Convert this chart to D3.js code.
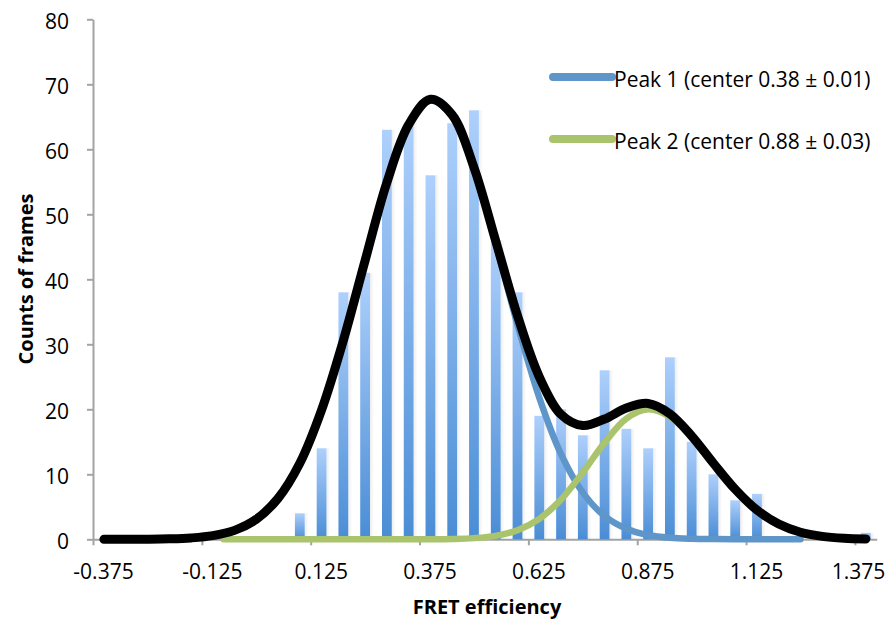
<!DOCTYPE html>
<html>
<head>
<meta charset="utf-8">
<script src="https://cdnjs.cloudflare.com/ajax/libs/d3/7.8.5/d3.min.js"></script>
<style>
  body { margin: 0; background: #fff; }
  svg text { font-family: "Open Sans", sans-serif; fill: #000; }
</style>
</head>
<body>
<div id="vis"></div>
<script>
// histogram of FRET efficiency (bin centres) and counts
const binCenters = [0.10, 0.15, 0.20, 0.25, 0.30, 0.35, 0.40, 0.45, 0.50, 0.55, 0.60, 0.65, 0.70, 0.75,
  0.80, 0.85, 0.90, 0.95, 1.00, 1.05, 1.10, 1.15, 1.20, 1.25, 1.30, 1.35, 1.40];
const counts = [4, 14, 38, 41, 63, 64, 56, 64, 66, 46, 38, 19, 20, 16,
  26, 17, 14, 28, 15, 10, 6, 7, 0, 0, 0, 0, 1];

// total fit (black)
const sumX = [-0.35, -0.30, -0.25, -0.20, -0.15, -0.10, -0.05, 0.00, 0.05, 0.10, 0.15, 0.20, 0.25, 0.30,
  0.35, 0.40, 0.45, 0.50, 0.55, 0.60, 0.65, 0.70, 0.75, 0.80, 0.85, 0.90, 0.95, 1.00, 1.05, 1.10,
  1.15, 1.20, 1.25, 1.30, 1.35, 1.40];
const sumFit = [0, 0.01, 0.02, 0.07, 0.21, 0.56, 1.37, 3.08, 6.30, 11.7, 19.9, 30.6, 42.9, 54.9,
  63.8, 67.7, 65.3, 57.2, 45.9, 34.4, 25.0, 19.2, 17.5, 18.5, 20.2, 20.9, 19.3, 15.9, 11.7, 7.7,
  4.5, 2.35, 1.09, 0.45, 0.16, 0.05];

// the two peaks
const peakX = [-0.075, -0.05, 0.00, 0.05, 0.10, 0.15, 0.20, 0.25, 0.30, 0.35, 0.40, 0.45, 0.50, 0.55,
  0.60, 0.65, 0.70, 0.75, 0.80, 0.85, 0.90, 0.95, 1.00, 1.05, 1.10, 1.15, 1.20, 1.25];
const peak1 = [0.88, 1.37, 3.08, 6.30, 11.7, 19.9, 30.6, 42.9, 54.9, 63.8, 67.5, 65.0, 57.0, 45.4,
  33.0, 21.8, 13.1, 7.19, 3.58, 1.63, 0.67, 0.25, 0.09, 0.03, 0.01, 0, 0, 0];
const peak2 = [0, 0, 0, 0, 0, 0, 0, 0, 0, 0, 0.01, 0.05, 0.18, 0.53,
  1.39, 3.15, 6.13, 10.28, 14.88, 18.57, 20.0, 18.85, 15.77, 11.71, 7.73, 4.52, 2.35, 1.09];

const xTicks = [-0.375, -0.125, 0.125, 0.375, 0.625, 0.875, 1.125, 1.375];
const xTickLabels = ["-0.375", "-0.125", "0.125", "0.375", "0.625", "0.875", "1.125", "1.375"];
const yTicks = [0, 10, 20, 30, 40, 50, 60, 70, 80];
const legendLabels = ["Peak 1 (center 0.38 \u00b1 0.01)", "Peak 2 (center 0.88 \u00b1 0.03)"];
const seriesColors = ["#5f96ca", "#a9c46c"];

let w = 896, h = 619;

let svg = d3.select("#vis").append("svg")
  .attr("width", w)
  .attr("height", h);

let x = d3.scaleLinear().domain([-0.375, 1.425]).range([93, 876.7]);
let y = d3.scaleLinear().domain([0, 80]).range([539.3, 19.3]);

let defs = svg.append("defs");
let barGrad = defs.append("linearGradient")
  .attr("id", "barGrad")
  .attr("x1", 0).attr("y1", 0).attr("x2", 0).attr("y2", 1);
barGrad.append("stop").attr("offset", "0%").attr("stop-color", "#aed0fc");
barGrad.append("stop").attr("offset", "100%").attr("stop-color", "#4a8dd5");

let shadowGrad = defs.append("linearGradient")
  .attr("id", "shadowGrad")
  .attr("x1", 0).attr("y1", 0).attr("x2", 1).attr("y2", 0);
shadowGrad.append("stop").attr("offset", "0%").attr("stop-color", "#000").attr("stop-opacity", 0.07);
shadowGrad.append("stop").attr("offset", "100%").attr("stop-color", "#000").attr("stop-opacity", 0);

// axes
let yAxis = svg.append("g")
  .attr("transform", "translate(" + x(-0.375) + ",0)")
  .call(d3.axisLeft(y).tickValues(yTicks).tickSize(6).tickSizeOuter(0).tickPadding(18));

let xAxis = svg.append("g")
  .attr("transform", "translate(0," + y(0) + ")")
  .call(d3.axisBottom(x).tickValues(xTicks).tickSize(6).tickSizeOuter(0).tickPadding(19)
    .tickFormat(function(d, i){ return xTickLabels[i]; }));

[xAxis, yAxis].forEach(function(g){
  g.select(".domain").attr("stroke", "#a3a3a3").attr("stroke-width", 2);
  g.selectAll(".tick line").attr("stroke", "#a3a3a3").attr("stroke-width", 2);
  g.selectAll("text")
    .attr("font-family", "Open Sans")
    .attr("font-size", 21)
    .attr("fill", "#000");
});
yAxis.selectAll("text").attr("dy", "0.45em");
xAxis.selectAll("text").attr("dx", function(d){ return d > 1.3 ? 3 : 10; });

// bars
let step = x(0.05) - x(0);
let barW = step * 0.45;

svg.selectAll("rect.shadow")
  .data(binCenters)
  .enter()
  .append("rect")
  .attr("class", "shadow")
  .attr("x", function(d){ return x(d) + barW / 2; })
  .attr("y", function(d, i){ return y(counts[i]); })
  .attr("width", 4)
  .attr("height", function(d, i){ return y(0) - y(counts[i]); })
  .attr("fill", "url(#shadowGrad)");

svg.selectAll("rect.bar")
  .data(binCenters)
  .enter()
  .append("rect")
  .attr("class", "bar")
  .attr("x", function(d){ return x(d) - barW / 2; })
  .attr("y", function(d, i){ return y(counts[i]); })
  .attr("width", barW)
  .attr("height", function(d, i){ return y(0) - y(counts[i]); })
  .attr("fill", "url(#barGrad)");

// fitted curves
let line = d3.line()
  .x(function(d){ return x(d[0]); })
  .y(function(d){ return y(d[1]); })
  .curve(d3.curveCatmullRom.alpha(0.5));

[peak1, peak2].forEach(function(vals, k){
  svg.append("path")
    .datum(peakX.map(function(v, i){ return [v, vals[i]]; }))
    .attr("d", line)
    .attr("fill", "none")
    .attr("stroke", seriesColors[k])
    .attr("stroke-width", 6.5)
    .attr("stroke-linecap", "round")
    .attr("stroke-linejoin", "round");
});

svg.append("path")
  .datum(sumX.map(function(v, i){ return [v, sumFit[i]]; }))
  .attr("d", line)
  .attr("fill", "none")
  .attr("stroke", "#000")
  .attr("stroke-width", 9)
  .attr("stroke-linecap", "round")
  .attr("stroke-linejoin", "round");

// legend
let legend = svg.selectAll("g.legend")
  .data(legendLabels)
  .enter()
  .append("g")
  .attr("class", "legend")
  .attr("transform", function(d, i){ return "translate(553," + (77 + i * 62) + ")"; });

legend.append("line")
  .attr("x1", 0).attr("x2", 59)
  .attr("y1", 0).attr("y2", 0)
  .attr("stroke", function(d, i){ return seriesColors[i]; })
  .attr("stroke-width", 8)
  .attr("stroke-linecap", "round");

legend.append("text")
  .attr("x", 61)
  .attr("y", 10)
  .attr("font-size", 21)
  .text(function(d){ return d; });

// axis titles
svg.append("text")
  .attr("transform", "translate(33,279) rotate(-90)")
  .attr("text-anchor", "middle")
  .attr("font-size", 20)
  .attr("font-weight", "bold")
  .text("Counts of frames");

svg.append("text")
  .attr("x", 487)
  .attr("y", 614)
  .attr("text-anchor", "middle")
  .attr("font-size", 20)
  .attr("font-weight", "bold")
  .text("FRET efficiency");
</script>
</body>
</html>
